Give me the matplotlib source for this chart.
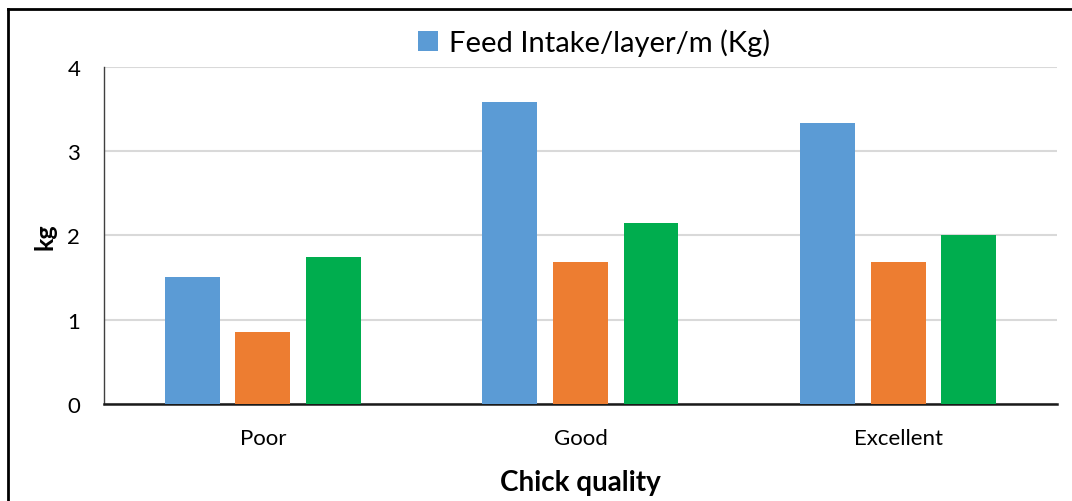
import numpy as np
import matplotlib.pyplot as plt
from matplotlib.lines import Line2D

plt.rcParams['font.family'] = ['Lato', 'DejaVu Sans']

# data
categories = ['Poor', 'Good', 'Excellent']
feed_intake = [1.51, 3.58, 3.33]
series_orange = [0.85, 1.69, 1.68]
series_green = [1.75, 2.15, 2.00]

colors = ['#5b9bd5', '#ed7d31', '#00ad4e']

fig = plt.figure(figsize=(10.72, 5.02), dpi=100)
ax = fig.add_axes([0.097, 0.193, 0.889, 0.672])

x = np.arange(len(categories))
w = 0.173
off = 0.222
b1 = ax.bar(x - off, feed_intake, w, color=colors[0], label='Feed Intake/layer/m (Kg)', zorder=3)
ax.bar(x, series_orange, w, color=colors[1], zorder=3)
ax.bar(x + off, series_green, w, color=colors[2], zorder=3)

ax.set_xlim(-0.5, 2.5)
ax.set_ylim(0, 4)
ax.set_yticks([0, 1, 2, 3, 4])
ax.set_xticks(x)
ax.set_xticklabels(categories)
ax.tick_params(axis='x', length=0, labelsize=16, pad=17)
ax.tick_params(axis='y', length=0, labelsize=16, pad=17)
ax.yaxis.grid(True, color='#d9d9d9', linewidth=1.5, zorder=0)
ax.set_axisbelow(True)

for s in ['top', 'right']:
    ax.spines[s].set_visible(False)
ax.spines['left'].set_color('#404040')
ax.spines['left'].set_linewidth(1.0)
ax.spines['bottom'].set_color('#1a1a1a')
ax.spines['bottom'].set_linewidth(1.8)

ax.set_xlabel('Chick quality', fontsize=20, fontweight='bold', labelpad=15)
ax.set_ylabel('kg', fontsize=18, fontweight='bold', labelpad=8)

fig.legend(handles=[b1], loc='center', bbox_to_anchor=(0.554, 0.914),
           frameon=False, fontsize=21, handlelength=0.7, handleheight=0.7,
           handletextpad=0.35)

# frame lines on the top and left edges
fig.add_artist(Line2D([8 / 1072, 8 / 1072], [0, 1 - 10 / 502], color='black', linewidth=2))
fig.add_artist(Line2D([8 / 1072, 1], [1 - 10 / 502, 1 - 10 / 502], color='black', linewidth=2))

fig.savefig('out.png', dpi=100)
